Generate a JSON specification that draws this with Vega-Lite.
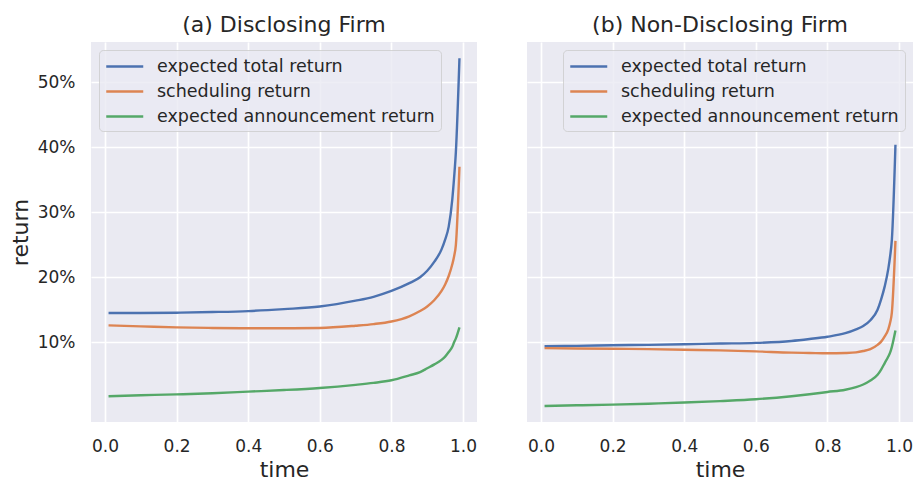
{
  "$schema": "https://vega.github.io/schema/vega-lite/v6.json",
  "padding": {"left": 9, "top": 14, "right": 0, "bottom": 0},
  "background": "white",
  "spacing": 50,
  "config": {
    "font": "DejaVu Sans",
    "view": {"fill": "#EAEAF2", "stroke": null},
    "axis": {"domain": false, "ticks": false, "tickSize": 0, "gridColor": "white", "gridWidth": 1.7, "labelFont": "DejaVu Sans", "labelFontSize": 17, "labelColor": "#262626", "labelPadding": 16, "titleFont": "DejaVu Sans", "titleFontSize": 22, "titleFontWeight": "normal", "titleColor": "#262626", "titlePadding": 5},
    "title": {"fontSize": 22, "fontWeight": "normal", "color": "#262626", "font": "DejaVu Sans", "offset": 5},
    "legend": {"title": null, "offset": 8, "padding": 6, "symbolType": "M-1,0H3", "symbolSize": 342, "symbolStrokeWidth": 2.4, "labelOffset": 31, "rowPadding": 6, "labelFont": "DejaVu Sans", "labelFontSize": 17.5, "labelColor": "#262626", "fillColor": "rgba(234,234,242,0.8)", "strokeColor": "rgba(204,204,204,0.8)", "cornerRadius": 4, "labelLimit": 400}
  },
  "datasets": {
    "a": [
      {"series": "expected total return", "time": 0.01, "ret": 0.145},
      {"series": "expected total return", "time": 0.1, "ret": 0.145},
      {"series": "expected total return", "time": 0.2, "ret": 0.1455},
      {"series": "expected total return", "time": 0.3, "ret": 0.1465},
      {"series": "expected total return", "time": 0.4, "ret": 0.148},
      {"series": "expected total return", "time": 0.5, "ret": 0.151},
      {"series": "expected total return", "time": 0.6, "ret": 0.155},
      {"series": "expected total return", "time": 0.7, "ret": 0.164},
      {"series": "expected total return", "time": 0.75, "ret": 0.170},
      {"series": "expected total return", "time": 0.8, "ret": 0.179},
      {"series": "expected total return", "time": 0.85, "ret": 0.191},
      {"series": "expected total return", "time": 0.88, "ret": 0.200},
      {"series": "expected total return", "time": 0.9, "ret": 0.210},
      {"series": "expected total return", "time": 0.92, "ret": 0.224},
      {"series": "expected total return", "time": 0.94, "ret": 0.243},
      {"series": "expected total return", "time": 0.95, "ret": 0.258},
      {"series": "expected total return", "time": 0.96, "ret": 0.278},
      {"series": "expected total return", "time": 0.97, "ret": 0.320},
      {"series": "expected total return", "time": 0.975, "ret": 0.353},
      {"series": "expected total return", "time": 0.98, "ret": 0.393},
      {"series": "expected total return", "time": 0.99, "ret": 0.537},
      {"series": "scheduling return", "time": 0.01, "ret": 0.126},
      {"series": "scheduling return", "time": 0.1, "ret": 0.1245},
      {"series": "scheduling return", "time": 0.2, "ret": 0.123},
      {"series": "scheduling return", "time": 0.3, "ret": 0.122},
      {"series": "scheduling return", "time": 0.4, "ret": 0.1215},
      {"series": "scheduling return", "time": 0.5, "ret": 0.1215},
      {"series": "scheduling return", "time": 0.6, "ret": 0.122},
      {"series": "scheduling return", "time": 0.7, "ret": 0.1255},
      {"series": "scheduling return", "time": 0.75, "ret": 0.128},
      {"series": "scheduling return", "time": 0.8, "ret": 0.132},
      {"series": "scheduling return", "time": 0.85, "ret": 0.140},
      {"series": "scheduling return", "time": 0.88, "ret": 0.148},
      {"series": "scheduling return", "time": 0.9, "ret": 0.155},
      {"series": "scheduling return", "time": 0.92, "ret": 0.165},
      {"series": "scheduling return", "time": 0.94, "ret": 0.179},
      {"series": "scheduling return", "time": 0.95, "ret": 0.189},
      {"series": "scheduling return", "time": 0.96, "ret": 0.202},
      {"series": "scheduling return", "time": 0.97, "ret": 0.220},
      {"series": "scheduling return", "time": 0.975, "ret": 0.232},
      {"series": "scheduling return", "time": 0.98, "ret": 0.250},
      {"series": "scheduling return", "time": 0.99, "ret": 0.370},
      {"series": "expected announcement return", "time": 0.01, "ret": 0.017},
      {"series": "expected announcement return", "time": 0.1, "ret": 0.0185},
      {"series": "expected announcement return", "time": 0.2, "ret": 0.0198},
      {"series": "expected announcement return", "time": 0.3, "ret": 0.0215},
      {"series": "expected announcement return", "time": 0.4, "ret": 0.024},
      {"series": "expected announcement return", "time": 0.5, "ret": 0.0265},
      {"series": "expected announcement return", "time": 0.6, "ret": 0.0297},
      {"series": "expected announcement return", "time": 0.7, "ret": 0.0345},
      {"series": "expected announcement return", "time": 0.75, "ret": 0.0375},
      {"series": "expected announcement return", "time": 0.8, "ret": 0.0415},
      {"series": "expected announcement return", "time": 0.85, "ret": 0.049},
      {"series": "expected announcement return", "time": 0.88, "ret": 0.054},
      {"series": "expected announcement return", "time": 0.9, "ret": 0.060},
      {"series": "expected announcement return", "time": 0.92, "ret": 0.066},
      {"series": "expected announcement return", "time": 0.94, "ret": 0.073},
      {"series": "expected announcement return", "time": 0.95, "ret": 0.078},
      {"series": "expected announcement return", "time": 0.96, "ret": 0.085},
      {"series": "expected announcement return", "time": 0.97, "ret": 0.093},
      {"series": "expected announcement return", "time": 0.975, "ret": 0.100},
      {"series": "expected announcement return", "time": 0.98, "ret": 0.106},
      {"series": "expected announcement return", "time": 0.99, "ret": 0.123}
    ],
    "b": [
      {"series": "expected total return", "time": 0.01, "ret": 0.094},
      {"series": "expected total return", "time": 0.1, "ret": 0.0945},
      {"series": "expected total return", "time": 0.2, "ret": 0.0955},
      {"series": "expected total return", "time": 0.3, "ret": 0.096},
      {"series": "expected total return", "time": 0.4, "ret": 0.097},
      {"series": "expected total return", "time": 0.5, "ret": 0.098},
      {"series": "expected total return", "time": 0.6, "ret": 0.099},
      {"series": "expected total return", "time": 0.7, "ret": 0.102},
      {"series": "expected total return", "time": 0.75, "ret": 0.105},
      {"series": "expected total return", "time": 0.8, "ret": 0.1085},
      {"series": "expected total return", "time": 0.85, "ret": 0.114},
      {"series": "expected total return", "time": 0.88, "ret": 0.120},
      {"series": "expected total return", "time": 0.9, "ret": 0.125},
      {"series": "expected total return", "time": 0.92, "ret": 0.134},
      {"series": "expected total return", "time": 0.94, "ret": 0.150},
      {"series": "expected total return", "time": 0.95, "ret": 0.166},
      {"series": "expected total return", "time": 0.96, "ret": 0.186},
      {"series": "expected total return", "time": 0.97, "ret": 0.213},
      {"series": "expected total return", "time": 0.975, "ret": 0.232},
      {"series": "expected total return", "time": 0.98, "ret": 0.258},
      {"series": "expected total return", "time": 0.99, "ret": 0.404},
      {"series": "scheduling return", "time": 0.01, "ret": 0.091},
      {"series": "scheduling return", "time": 0.1, "ret": 0.0905},
      {"series": "scheduling return", "time": 0.2, "ret": 0.090},
      {"series": "scheduling return", "time": 0.3, "ret": 0.0895},
      {"series": "scheduling return", "time": 0.4, "ret": 0.0885},
      {"series": "scheduling return", "time": 0.5, "ret": 0.0875},
      {"series": "scheduling return", "time": 0.6, "ret": 0.086},
      {"series": "scheduling return", "time": 0.7, "ret": 0.084},
      {"series": "scheduling return", "time": 0.75, "ret": 0.0835},
      {"series": "scheduling return", "time": 0.8, "ret": 0.083},
      {"series": "scheduling return", "time": 0.85, "ret": 0.0835},
      {"series": "scheduling return", "time": 0.88, "ret": 0.0845},
      {"series": "scheduling return", "time": 0.9, "ret": 0.0865},
      {"series": "scheduling return", "time": 0.92, "ret": 0.0895},
      {"series": "scheduling return", "time": 0.94, "ret": 0.096},
      {"series": "scheduling return", "time": 0.95, "ret": 0.101},
      {"series": "scheduling return", "time": 0.96, "ret": 0.109},
      {"series": "scheduling return", "time": 0.97, "ret": 0.120},
      {"series": "scheduling return", "time": 0.975, "ret": 0.130},
      {"series": "scheduling return", "time": 0.98, "ret": 0.146},
      {"series": "scheduling return", "time": 0.99, "ret": 0.256},
      {"series": "expected announcement return", "time": 0.01, "ret": 0.002},
      {"series": "expected announcement return", "time": 0.1, "ret": 0.003},
      {"series": "expected announcement return", "time": 0.2, "ret": 0.004},
      {"series": "expected announcement return", "time": 0.3, "ret": 0.0055},
      {"series": "expected announcement return", "time": 0.4, "ret": 0.0072},
      {"series": "expected announcement return", "time": 0.5, "ret": 0.0095},
      {"series": "expected announcement return", "time": 0.6, "ret": 0.0123},
      {"series": "expected announcement return", "time": 0.7, "ret": 0.017},
      {"series": "expected announcement return", "time": 0.75, "ret": 0.020},
      {"series": "expected announcement return", "time": 0.8, "ret": 0.0235},
      {"series": "expected announcement return", "time": 0.85, "ret": 0.027},
      {"series": "expected announcement return", "time": 0.88, "ret": 0.031},
      {"series": "expected announcement return", "time": 0.9, "ret": 0.035},
      {"series": "expected announcement return", "time": 0.92, "ret": 0.041},
      {"series": "expected announcement return", "time": 0.94, "ret": 0.050},
      {"series": "expected announcement return", "time": 0.95, "ret": 0.058},
      {"series": "expected announcement return", "time": 0.96, "ret": 0.068},
      {"series": "expected announcement return", "time": 0.97, "ret": 0.078},
      {"series": "expected announcement return", "time": 0.975, "ret": 0.084},
      {"series": "expected announcement return", "time": 0.98, "ret": 0.093},
      {"series": "expected announcement return", "time": 0.99, "ret": 0.118}
    ]
  },
  "hconcat": [
    {
      "title": "(a) Disclosing Firm",
      "width": 386,
      "height": 380,
      "data": {"name": "a"},
      "mark": {"type": "line", "strokeWidth": 2.4, "interpolate": "monotone"},
      "encoding": {
        "x": {"field": "time", "type": "quantitative", "scale": {"domain": [-0.039, 1.039], "nice": false, "zero": false}, "axis": {"values": [0, 0.2, 0.4, 0.6, 0.8, 1.0], "format": ".1f", "title": "time"}},
        "y": {"field": "ret", "type": "quantitative", "scale": {"domain": [-0.0227, 0.5621], "nice": false, "zero": false}, "axis": {"values": [0.1, 0.2, 0.3, 0.4, 0.5], "format": ".0%", "title": "return"}},
        "color": {"field": "series", "type": "nominal", "scale": {"domain": ["expected total return", "scheduling return", "expected announcement return"], "range": ["#4C72B0", "#DD8452", "#55A868"]}, "legend": {"orient": "top-left"}}
      }
    },
    {
      "title": "(b) Non-Disclosing Firm",
      "width": 386,
      "height": 380,
      "data": {"name": "b"},
      "mark": {"type": "line", "strokeWidth": 2.4, "interpolate": "monotone"},
      "encoding": {
        "x": {"field": "time", "type": "quantitative", "scale": {"domain": [-0.039, 1.039], "nice": false, "zero": false}, "axis": {"values": [0, 0.2, 0.4, 0.6, 0.8, 1.0], "format": ".1f", "title": "time"}},
        "y": {"field": "ret", "type": "quantitative", "scale": {"domain": [-0.0227, 0.5621], "nice": false, "zero": false}, "axis": {"values": [0.1, 0.2, 0.3, 0.4, 0.5], "labels": false, "title": null}},
        "color": {"field": "series", "type": "nominal", "scale": {"domain": ["expected total return", "scheduling return", "expected announcement return"], "range": ["#4C72B0", "#DD8452", "#55A868"]}, "legend": {"orient": "top-right"}}
      }
    }
  ],
  "resolve": {"scale": {"color": "independent"}, "legend": {"color": "independent"}}
}
